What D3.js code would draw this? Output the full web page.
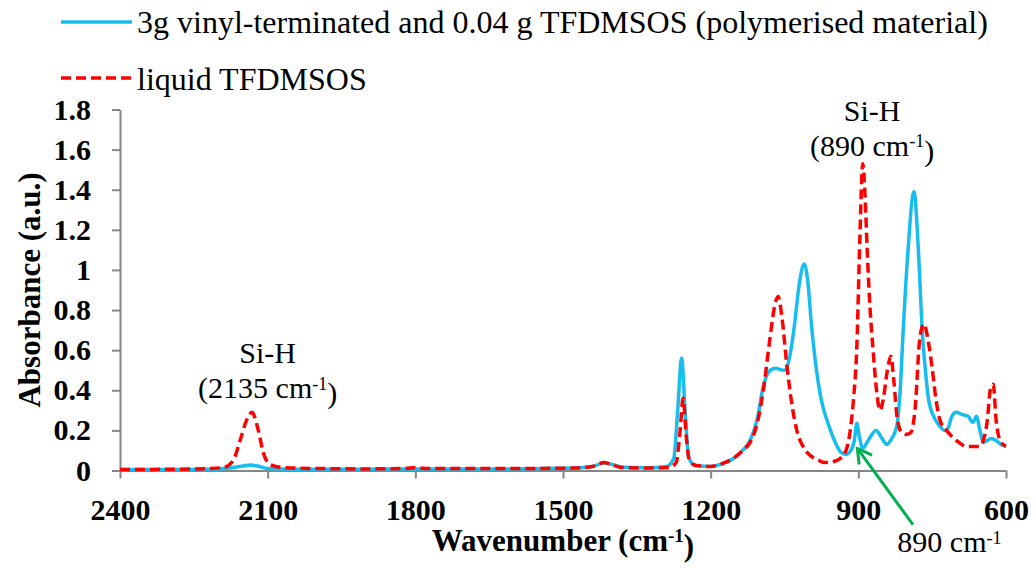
<!DOCTYPE html>
<html>
<head>
<meta charset="utf-8">
<script src="https://cdn.jsdelivr.net/npm/d3@7"></script>
<style>
  body { margin: 0; background: #fff; }
  svg text { font-family: "Liberation Serif", Tinos, "Times New Roman", "DejaVu Serif", serif; fill: #000; }
</style>
</head>
<body>
<svg id="chart" width="1034" height="575"></svg>
<script>
// polymerised material (blue, solid)
const blueWn = [2400, 2300, 2200, 2170, 2150, 2135, 2120, 2100, 2050, 1900, 1800, 1600, 1480, 1440, 1417, 1400, 1380, 1330, 1290, 1275, 1267, 1259, 1252, 1245, 1235, 1220, 1200, 1188, 1170, 1154, 1135, 1120, 1105, 1093, 1079, 1068, 1060, 1050, 1040, 1030, 1020, 1010, 1003, 995, 985, 975, 965, 955, 945, 935, 925, 915, 908, 903, 898, 891, 880, 864, 852, 842, 832, 822, 815, 809, 799, 787, 778, 770, 763, 757, 745, 734, 725, 718, 710, 701, 690, 677, 667, 660, 653, 646, 638, 630, 620, 610, 600];
const blueAbs = [0.005, 0.005, 0.008, 0.015, 0.022, 0.028, 0.022, 0.01, 0.006, 0.006, 0.007, 0.008, 0.012, 0.02, 0.038, 0.03, 0.016, 0.014, 0.02, 0.06, 0.3, 0.56, 0.3, 0.07, 0.03, 0.022, 0.02, 0.025, 0.04, 0.06, 0.1, 0.15, 0.26, 0.42, 0.5, 0.51, 0.505, 0.5, 0.56, 0.72, 0.93, 1.03, 0.95, 0.72, 0.5, 0.35, 0.26, 0.19, 0.13, 0.09, 0.08, 0.1, 0.15, 0.235, 0.17, 0.11, 0.15, 0.2, 0.16, 0.13, 0.16, 0.22, 0.4, 0.69, 1.1, 1.39, 1.1, 0.69, 0.48, 0.35, 0.26, 0.22, 0.2, 0.21, 0.27, 0.29, 0.28, 0.27, 0.24, 0.27, 0.2, 0.14, 0.15, 0.16, 0.15, 0.13, 0.12];

// liquid TFDMSOS (red, dashed)
const redWn = [2400, 2300, 2220, 2190, 2170, 2156, 2143, 2132, 2119, 2109, 2095, 2070, 2000, 1900, 1820, 1800, 1780, 1600, 1480, 1440, 1417, 1400, 1380, 1330, 1285, 1270, 1262, 1256, 1250, 1243, 1230, 1200, 1188, 1170, 1154, 1135, 1120, 1105, 1093, 1080, 1070, 1063, 1055, 1045, 1035, 1025, 1010, 995, 980, 968, 950, 937, 925, 917, 910, 903, 897, 891, 886, 882, 876, 870, 863, 856, 849, 841, 834, 828, 821, 812, 803, 793, 785, 775, 767, 757, 750, 742, 734, 721, 710, 701, 690, 681, 665, 654, 645, 638, 632, 626, 620, 612, 600];
const redAbs = [0.005, 0.006, 0.01, 0.015, 0.05, 0.15, 0.25, 0.29, 0.2, 0.09, 0.03, 0.015, 0.01, 0.008, 0.01, 0.015, 0.01, 0.01, 0.012, 0.02, 0.04, 0.028, 0.015, 0.012, 0.015, 0.04, 0.2, 0.36, 0.18, 0.05, 0.025, 0.02, 0.025, 0.04, 0.06, 0.1, 0.14, 0.24, 0.4, 0.65, 0.82, 0.867, 0.76, 0.52, 0.33, 0.2, 0.11, 0.07, 0.05, 0.04, 0.045, 0.06, 0.1, 0.19, 0.35, 0.62, 1.15, 1.53, 1.35, 1.1, 0.8, 0.6, 0.4, 0.3, 0.36, 0.5, 0.57, 0.45, 0.26, 0.19, 0.18, 0.19, 0.3, 0.66, 0.73, 0.63, 0.51, 0.35, 0.25, 0.2, 0.17, 0.15, 0.13, 0.12, 0.12, 0.12, 0.16, 0.25, 0.4, 0.43, 0.25, 0.15, 0.12];

const xTicks = [2400, 2100, 1800, 1500, 1200, 900, 600];
const yTicks = [0, 0.2, 0.4, 0.6, 0.8, 1, 1.2, 1.4, 1.6, 1.8];
const seriesNames = ["3g vinyl-terminated and 0.04 g TFDMSOS (polymerised material)", "liquid TFDMSOS"];

const blue = "#17BDEE", red = "#FF0000", axisGrey = "#868686", green = "#00B050";
const serif = '"Liberation Serif", Tinos, "Times New Roman", "DejaVu Serif", serif';

const svg = d3.select("#chart");

const x = d3.scaleLinear().domain([2400, 600]).range([120, 1006]);
const y = d3.scaleLinear().domain([0, 1.8]).range([470.5, 109.5]);

// axes
const xAxis = svg.append("g")
  .attr("transform", "translate(0," + y(0) + ")")
  .call(d3.axisBottom(x).tickValues(xTicks).tickSize(8).tickSizeOuter(0).tickPadding(20).tickFormat(d3.format("d")));

const yAxis = svg.append("g")
  .attr("transform", "translate(" + x(2400) + ",0)")
  .call(d3.axisLeft(y).tickValues(yTicks).tickSize(8).tickSizeOuter(0).tickPadding(21).tickFormat(d => d3.format("~g")(d)));

[xAxis, yAxis].forEach(a => {
  a.attr("font-family", serif);
  a.selectAll("path, line").attr("stroke", axisGrey).attr("stroke-width", 2);
  a.selectAll("text")
    .style("font-family", serif)
    .style("font-size", "30px")
    .style("font-weight", "bold")
    .attr("fill", "#000");
});

// axis titles
const xTitle = svg.append("text")
  .attr("x", (x(2400) + x(600)) / 2)
  .attr("y", 551)
  .attr("text-anchor", "middle")
  .style("font-family", serif)
  .style("font-size", "31px")
  .style("font-weight", "bold");
xTitle.append("tspan").text("Wavenumber (cm");
xTitle.append("tspan").attr("dy", "-0.45em").style("font-size", "19px").text("-1");
xTitle.append("tspan").attr("dy", "0.45em").text(")");

svg.append("text")
  .attr("transform", "translate(40," + (y(0) + y(1.8)) / 2 + ") rotate(-90)")
  .attr("text-anchor", "middle")
  .style("font-family", serif)
  .style("font-size", "31px")
  .style("font-weight", "bold")
  .text("Absorbance (a.u.)");

// lines
const line = d3.line()
  .x(d => x(d[0]))
  .y(d => y(d[1]))
  .curve(d3.curveMonotoneX);

svg.append("path")
  .datum(d3.zip(blueWn, blueAbs))
  .attr("fill", "none")
  .attr("stroke", blue)
  .attr("stroke-width", 3.5)
  .attr("stroke-linejoin", "round")
  .attr("d", line);

svg.append("path")
  .datum(d3.zip(redWn, redAbs))
  .attr("fill", "none")
  .attr("stroke", red)
  .attr("stroke-width", 3.5)
  .attr("stroke-dasharray", "10,5")
  .attr("d", line);

// legend
const legend = svg.append("g");
[[blue, null, 22, 33], [red, "10,5", 78, 90]].forEach((l, i) => {
  legend.append("line")
    .attr("x1", 61).attr("x2", 132)
    .attr("y1", l[2]).attr("y2", l[2])
    .attr("stroke", l[0])
    .attr("stroke-width", 3.5)
    .attr("stroke-dasharray", l[1]);
  legend.append("text")
    .attr("x", 137)
    .attr("y", l[3])
    .style("font-family", serif)
    .style("font-size", "32px")
    .text(seriesNames[i]);
});

// annotations
function peakLabel(wn, yTop, value) {
  svg.append("text")
    .attr("x", x(wn)).attr("y", y(yTop))
    .attr("text-anchor", "middle")
    .style("font-family", serif)
    .style("font-size", "30px")
    .text("Si-H");
  const t = svg.append("text")
    .attr("x", x(wn)).attr("y", y(yTop) + 35)
    .attr("text-anchor", "middle")
    .style("font-family", serif)
    .style("font-size", "30px");
  t.append("tspan").text("(" + value + " cm");
  t.append("tspan").attr("dy", "-0.45em").style("font-size", "18px").text("-1");
  t.append("tspan").attr("dy", "0.45em").text(")");
}
peakLabel(2100, 0.536, 2135);
peakLabel(872, 1.745, 890);

// green arrow to the small 890 band
svg.append("defs").append("marker")
  .attr("id", "head")
  .attr("viewBox", "0 0 20 20")
  .attr("refX", 18).attr("refY", 10)
  .attr("markerUnits", "userSpaceOnUse")
  .attr("markerWidth", 20).attr("markerHeight", 20)
  .attr("orient", "auto")
  .append("path")
  .attr("d", "M4,2 L18,10 L4,18")
  .attr("fill", "none")
  .attr("stroke", green)
  .attr("stroke-width", 3);

svg.append("line")
  .attr("x1", x(789)).attr("y1", y(-0.27))
  .attr("x2", x(902)).attr("y2", y(0.11))
  .attr("stroke", green)
  .attr("stroke-width", 3)
  .attr("marker-end", "url(#head)");

const arrowText = svg.append("text")
  .attr("x", x(715)).attr("y", y(-0.405))
  .attr("text-anchor", "middle")
  .style("font-family", serif)
  .style("font-size", "30px");
arrowText.append("tspan").text("890 cm");
arrowText.append("tspan").attr("dy", "-0.45em").style("font-size", "18px").text("-1");
</script>
</body>
</html>
